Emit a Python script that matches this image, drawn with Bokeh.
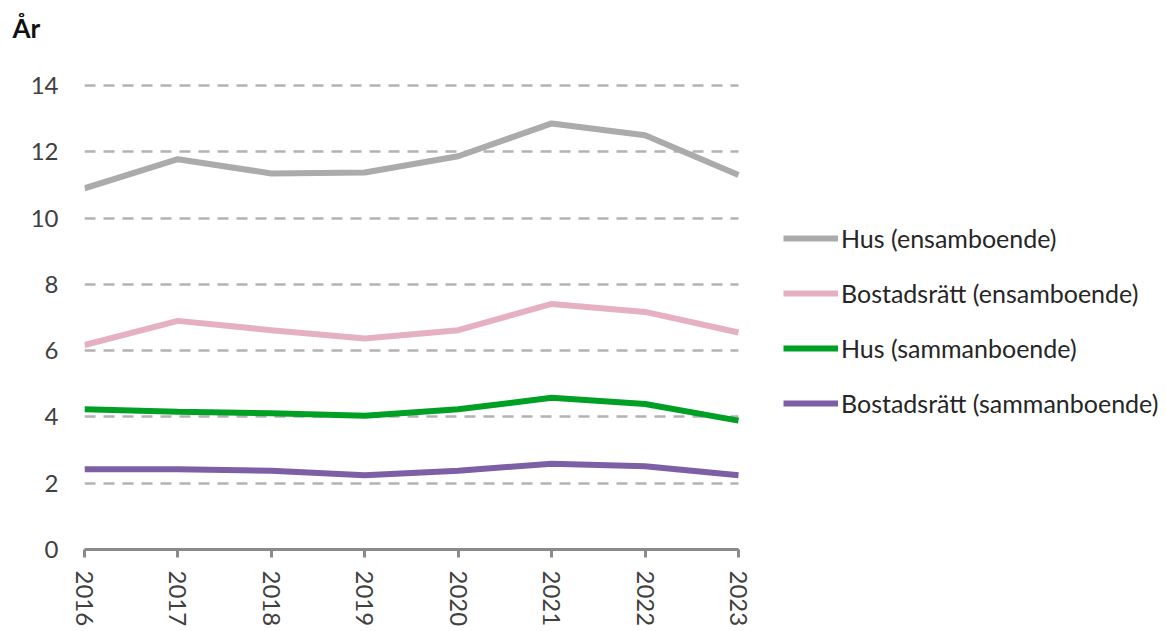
from bokeh.plotting import figure
from bokeh.models import Range1d, FixedTicker, Legend, LegendItem
from bokeh.embed import file_html
from bokeh.resources import INLINE

years = [2016, 2017, 2018, 2019, 2020, 2021, 2022, 2023]
hus_ens = [10.9, 11.78, 11.35, 11.38, 11.87, 12.86, 12.5, 11.3]
bo_ens = [6.17, 6.9, 6.62, 6.37, 6.62, 7.41, 7.17, 6.55]
hus_sam = [4.23, 4.16, 4.11, 4.04, 4.23, 4.58, 4.39, 3.89]
bo_sam = [2.42, 2.42, 2.38, 2.24, 2.38, 2.59, 2.51, 2.24]
labels = ["Hus (ensamboende)", "Bostadsrätt (ensamboende)",
          "Hus (sammanboende)", "Bostadsrätt (sammanboende)"]
colors = ["#ababab", "#e6b0c4", "#00a024", "#7d5fa5"]
y_ticks = [0, 2, 4, 6, 8, 10, 12, 14]

FONT = "Lato"

# layout: plotted area 2016..2023 spans 654 px; frame extends right to hold legend
W, H = 1160, 629
LEFT, TOP, BOTTOM = 84, 52, 79
data_px = 654
frame_w = W - LEFT
x_end = years[0] + (years[-1] - years[0]) * frame_w / data_px

p = figure(width=W, height=H, output_backend="svg", toolbar_location=None,
           x_range=Range1d(years[0], x_end), y_range=Range1d(0, 15),
           min_border_left=LEFT, min_border_right=0, min_border_top=TOP,
           min_border_bottom=BOTTOM, title="År")
p.outline_line_color = None
p.background_fill_color = "white"

p.title.text_font = FONT
p.title.text_font_size = "26px"
p.title.text_font_style = "bold"
p.title.text_color = "#111111"
p.title.align = "left"
p.title.offset = -72
p.title.standoff = 18

p.xgrid.grid_line_color = None
p.ygrid.ticker = FixedTicker(ticks=y_ticks)
p.ygrid.cross_bounds = (years[0], years[-1])
p.ygrid.grid_line_color = "#b3b3b3"
p.ygrid.grid_line_width = 2.5
p.ygrid.grid_line_dash = "11 8"

p.yaxis.ticker = FixedTicker(ticks=y_ticks)
p.yaxis.axis_line_color = None
p.yaxis.major_tick_line_color = None
p.yaxis.minor_tick_line_color = None
p.yaxis.major_label_standoff = 20
p.yaxis.major_label_text_font = FONT
p.yaxis.major_label_text_font_size = "24px"
p.yaxis.major_label_text_color = "#404040"

p.xaxis.ticker = FixedTicker(ticks=years)
p.xaxis.bounds = (years[0], years[-1])
p.xaxis.axis_line_color = "#8a8a8a"
p.xaxis.axis_line_width = 3
p.xaxis.major_tick_line_color = "#8a8a8a"
p.xaxis.major_tick_line_width = 3
p.xaxis.major_tick_in = 0
p.xaxis.major_tick_out = 8
p.xaxis.minor_tick_line_color = None
p.xaxis.major_label_orientation = "vertical"
p.xaxis.major_label_standoff = 13
p.xaxis.major_label_text_font = FONT
p.xaxis.major_label_text_font_size = "24px"
p.xaxis.major_label_text_color = "#404040"

items = []
for ys, lab, col in zip([hus_ens, bo_ens, hus_sam, bo_sam], labels, colors):
    r = p.line(years, ys, line_color=col, line_width=6)
    items.append(LegendItem(label=lab, renderers=[r]))

legend = Legend(items=items, location=(699, 131))
legend.border_line_color = None
legend.background_fill_alpha = 0
legend.label_text_font = FONT
legend.label_text_font_size = "25px"
legend.label_text_color = "#262626"
legend.glyph_width = 55
legend.glyph_height = 30
legend.label_height = 30
legend.label_standoff = 3
legend.spacing = 25
legend.padding = 0
legend.margin = 0
p.add_layout(legend, "center")

open("out.html", "w").write(file_html(p, INLINE))
